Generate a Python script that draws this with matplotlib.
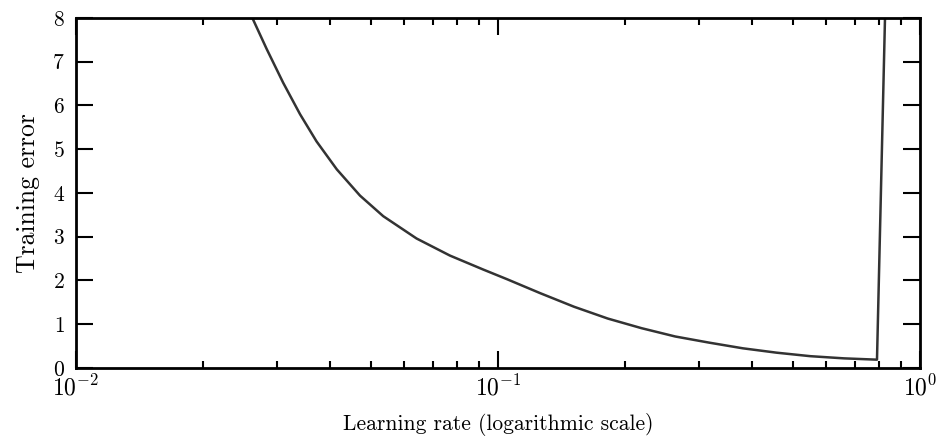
import matplotlib
matplotlib.use("Agg")
import matplotlib.pyplot as plt
from matplotlib.ticker import LogLocator, NullFormatter

plt.rcParams['font.family'] = ['cmr10', 'DejaVu Serif']
plt.rcParams['mathtext.fontset'] = 'cm'
plt.rcParams['axes.formatter.use_mathtext'] = True

learning_rate = [0.02618, 0.02831, 0.03097, 0.03396, 0.03715, 0.04150, 0.04710, 0.05346,
                 0.06412, 0.07691, 0.09226, 0.1050, 0.1259, 0.1514, 0.1820, 0.2188,
                 0.2630, 0.3162, 0.3802, 0.4571, 0.5495, 0.6607, 0.7907, 0.8260]
training_error = [8.0, 7.29, 6.52, 5.80, 5.18, 4.54, 3.94, 3.47,
                  2.96, 2.57, 2.25, 2.03, 1.71, 1.40, 1.13, 0.91,
                  0.72, 0.58, 0.45, 0.35, 0.27, 0.22, 0.19, 8.0]

x_label = "Learning rate (logarithmic scale)"
y_label = "Training error"
y_ticks = [0, 1, 2, 3, 4, 5, 6, 7, 8]

fig = plt.figure(figsize=(9.39, 4.44), dpi=100)
ax = fig.add_axes([0.0809, 0.1712, 0.8989, 0.7883])
ax.plot(learning_rate, training_error, color='#333333', lw=1.8,
        solid_joinstyle='round', solid_capstyle='butt')
ax.set_xscale('log')
ax.set_xlim(1e-2, 1e0)
ax.set_ylim(0, 8)
ax.set_yticks(y_ticks)
ax.xaxis.set_major_locator(LogLocator(base=10, numticks=10))
ax.xaxis.set_minor_locator(LogLocator(base=10, subs=range(2, 10), numticks=20))
ax.xaxis.set_minor_formatter(NullFormatter())

for s in ax.spines.values():
    s.set_linewidth(2.0)
ax.tick_params(which='both', direction='in', top=True, right=True, width=1.5, colors='black')
ax.tick_params(which='major', length=12)
ax.tick_params(which='minor', length=5)
ax.tick_params(axis='x', pad=5, labelsize=17)
ax.tick_params(axis='y', pad=8, labelsize=15.5)

ax.set_xlabel(x_label, fontsize=15.5, labelpad=9)
ax.set_ylabel(y_label, fontsize=18.5, labelpad=9)

fig.savefig("out.png", dpi=100)
